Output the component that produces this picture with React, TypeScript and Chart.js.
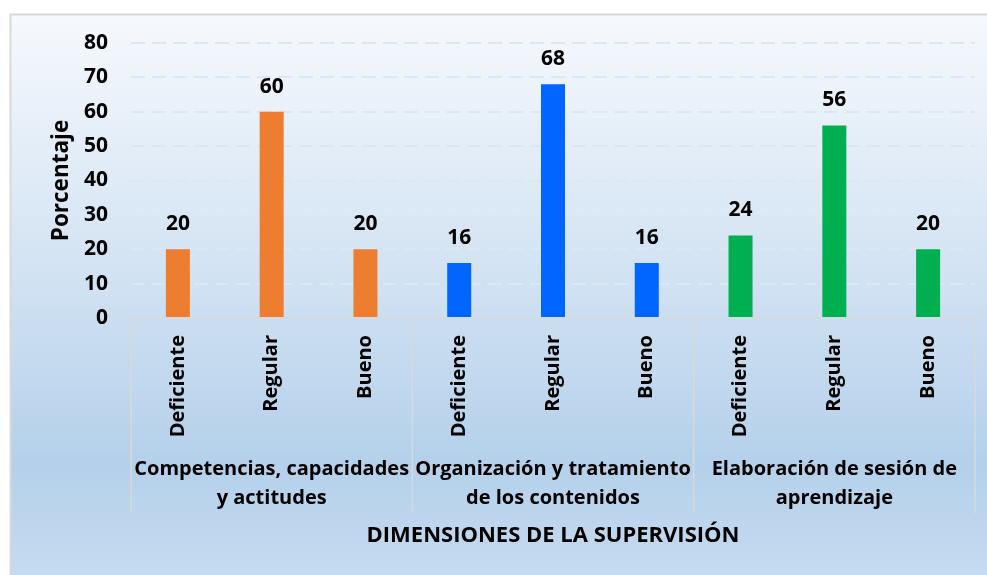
import React, { useEffect, useRef } from "react";
import { Chart, registerables } from "chart.js";

Chart.register(...registerables);

const dimensionLabels: string[][] = [
  ["Competencias, capacidades", "y actitudes"],
  ["Organización y tratamiento", "de los contenidos"],
  ["Elaboración de sesión de", "aprendizaje"],
];
const levelLabels = ["Deficiente", "Regular", "Bueno"];
const competenciasValues = [20, 60, 20];
const organizacionValues = [16, 68, 16];
const elaboracionValues = [24, 56, 20];
const groupColors = ["#ED7D31", "#0066FF", "#00B050"];
const yMax = 80;
const yStep = 10;
const xTitle = "DIMENSIONES DE LA SUPERVISIÓN";
const yTitle = "Porcentaje";

const FONT = "'Open Sans', Lato, sans-serif";

export default function App() {
  const ref = useRef<HTMLCanvasElement | null>(null);

  useEffect(() => {
    if (!ref.current) return;
    const groupsValues = [competenciasValues, organizacionValues, elaboracionValues];
    const labels: string[] = [];
    const data: number[] = [];
    const colors: string[] = [];
    groupsValues.forEach((vals, g) => {
      vals.forEach((v, i) => {
        labels.push(levelLabels[i]);
        data.push(v);
        colors.push(groupColors[g]);
      });
    });

    const bgPlugin = {
      id: "bg",
      beforeDraw(chart: any) {
        const ctx = chart.ctx;
        const x0 = 10, y0 = 14, x1 = 987, y1 = 575;
        const g = ctx.createLinearGradient(0, y0, 0, y1);
        g.addColorStop(0, "#f6f9fd");
        g.addColorStop(0.45, "#d3e3f3");
        g.addColorStop(0.8, "#b4d0ea");
        g.addColorStop(1, "#c5dbf0");
        ctx.save();
        ctx.fillStyle = g;
        ctx.fillRect(x0, y0, x1 - x0, y1 - y0);
        ctx.strokeStyle = "#d9d9d9";
        ctx.lineWidth = 2;
        ctx.strokeRect(x0 + 0.5, y0 + 0.5, x1 - x0 + 5, y1 - y0 + 5);
        ctx.restore();
      },
    };

    const overlayPlugin = {
      id: "overlay",
      afterDraw(chart: any) {
        const ctx = chart.ctx;
        const xs = chart.scales.x;
        const ys = chart.scales.y;
        const area = chart.chartArea;
        const n = labels.length;
        const cw = (xs.right - xs.left) / n;
        const boxBottom = 513;
        ctx.save();
        // category box
        ctx.strokeStyle = "#d9d9d9";
        ctx.lineWidth = 1.5;
        ctx.beginPath();
        ctx.moveTo(xs.left, area.bottom);
        ctx.lineTo(xs.right, area.bottom);
        for (let g = 0; g <= groupsValues.length; g++) {
          const bx = xs.left + g * 3 * cw;
          ctx.moveTo(bx, area.bottom);
          ctx.lineTo(bx, boxBottom);
        }
        ctx.stroke();

        ctx.fillStyle = "#000";
        ctx.textAlign = "center";
        ctx.textBaseline = "middle";
        // group labels
        ctx.font = `bold 20px ${FONT}`;
        dimensionLabels.forEach((lines, g) => {
          const cx = xs.getPixelForValue(g * 3 + 1);
          lines.forEach((line, li) => {
            ctx.fillText(line, cx, 469 + li * 29);
          });
        });
        // data labels
        ctx.font = `bold 21px ${FONT}`;
        const meta = chart.getDatasetMeta(0);
        meta.data.forEach((bar: any, i: number) => {
          ctx.fillText(String(data[i]), bar.x, bar.y - 25);
        });
        // x title
        ctx.font = `bold 22px ${FONT}`;
        ctx.fillText(xTitle, (xs.left + xs.right) / 2, 536);
        // y title
        ctx.save();
        ctx.translate(62, (ys.top + ys.bottom) / 2);
        ctx.rotate(-Math.PI / 2);
        ctx.font = `bold 22.5px ${FONT}`;
        ctx.fillText(yTitle, 0, 0);
        ctx.restore();
        ctx.restore();
      },
    };

    const chart = new Chart(ref.current, {
      type: "bar",
      data: {
        labels,
        datasets: [
          {
            data,
            backgroundColor: colors,
            borderWidth: 0,
            categoryPercentage: 1,
            barPercentage: 0.256,
          },
        ],
      },
      options: {
        animation: false,
        responsive: false,
        devicePixelRatio: 1,
        layout: { padding: { left: 0, right: 12, top: 43, bottom: 0 } },
        plugins: {
          legend: { display: false },
          tooltip: { enabled: false },
        },
        scales: {
          x: {
            grid: { display: false },
            border: { display: false },
            ticks: {
              minRotation: 90,
              maxRotation: 90,
              padding: 9,
              color: "#000",
              font: { family: FONT, size: 20, weight: "bold" },
            },
            afterFit(scale: any) {
              scale.height = 575 - 318;
            },
          },
          y: {
            min: 0,
            max: yMax,
            ticks: {
              stepSize: yStep,
              padding: 23,
              color: "#000",
              font: { family: FONT, size: 21, weight: "bold" },
            },
            grid: {
              drawTicks: false,
              color: (c: any) => (c.tick && c.tick.value === 0 ? "rgba(0,0,0,0)" : "#dce7f4"),
              lineWidth: 2,
            },
            border: { display: false, dash: [14, 7] },
            afterFit(scale: any) {
              scale.width = 131;
            },
          },
        },
      },
      plugins: [bgPlugin, overlayPlugin],
    });
    return () => chart.destroy();
  }, []);

  return (
    <div style={{ position: "absolute", left: 0, top: 0, width: 987, height: 575, background: "#fff" }}>
      <canvas ref={ref} width={987} height={575} />
    </div>
  );
}
